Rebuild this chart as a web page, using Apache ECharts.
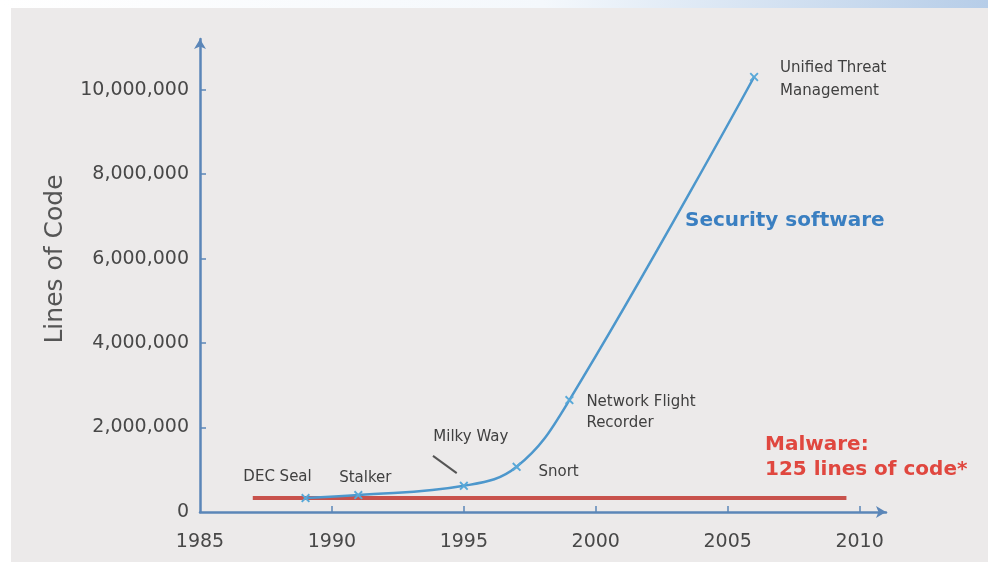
<!DOCTYPE html>
<html>
<head>
<meta charset="utf-8">
<script src="https://cdn.jsdelivr.net/npm/echarts@6/dist/echarts.min.js"></script>
<style>
html,body{margin:0;padding:0;background:#ffffff;}
#chart{width:988px;height:562px;}
</style>
</head>
<body>
<div id="chart"></div>
<script>
// ---- data ----
const years = [1989, 1991, 1995, 1997, 1999, 2006];
const linesOfCode = [330000, 400000, 620000, 1070000, 2650000, 10300000];
const productNames = ['DEC Seal', 'Stalker', 'Milky Way', 'Snort', 'Network Flight\nRecorder', 'Unified Threat\nManagement'];
const malwareYears = [1987, 2009.5];
const malwareValues = [330000, 330000];
const yTickValues = [0, 2000000, 4000000, 6000000, 8000000, 10000000];
const xTickLabels = [1985, 1990, 1995, 2000, 2005, 2010];
const milkyWayLeader = [[1993.83, 1330000], [1994.73, 920000]];

// ---- label layout (styling only) ----
const labelLayout = [
  {offset: [-28, -21], align: 'center'},
  {offset: [7, -17], align: 'center'},
  {offset: [7, -49], align: 'center'},
  {offset: [42, 5], align: 'center'},
  {offset: [17, 13], align: 'left', lineHeight: 21},
  {offset: [26, 3], align: 'left', lineHeight: 23}
];

const axisBlue = '#5b86b8';
const curveBlue = '#4d97cc';
const xMark = 'path://M0,1.5L1.5,0L5,3.5L8.5,0L10,1.5L6.5,5L10,8.5L8.5,10L5,6.5L1.5,10L0,8.5L3.5,5Z';

const securityData = years.map((y, i) => ({
  value: [y, linesOfCode[i]],
  label: {
    show: true,
    position: 'inside',
    formatter: productNames[i],
    offset: labelLayout[i].offset,
    align: labelLayout[i].align,
    verticalAlign: 'middle',
    lineHeight: labelLayout[i].lineHeight || 18
  }
}));

const chart = echarts.init(document.getElementById('chart'));
chart.setOption({
  backgroundColor: '#ecEAEA',
  animation: false,
  textStyle: {fontFamily: 'DejaVu Sans'},
  grid: {left: 200, right: 102, top: 39, bottom: 50, containLabel: false},
  graphic: [
    {type: 'rect', left: 0, top: 0, shape: {width: 11, height: 562}, style: {fill: '#ffffff'}, silent: true},
    {type: 'rect', left: 0, top: 0, shape: {width: 988, height: 8},
      style: {fill: new echarts.graphic.LinearGradient(0, 0, 1, 0, [
        {offset: 0, color: '#ffffff'}, {offset: 0.55, color: '#f4f8fc'}, {offset: 1, color: '#b6cde8'}])}, silent: true},
    {type: 'text', x: 55, y: 259, rotation: Math.PI / 2, silent: true,
      style: {text: 'Lines of Code', fill: '#555555', font: '25px "DejaVu Sans"', align: 'center', verticalAlign: 'middle'}},
    {type: 'text', left: 685, top: 211, silent: true,
      style: {text: 'Security software', fill: '#3a7fc1', font: 'bold 20px "DejaVu Sans"'}},
    {type: 'text', left: 765, top: 432, silent: true,
      style: {text: 'Malware:\n125 lines of code*', fill: '#e0473f', font: 'bold 20px "DejaVu Sans"', lineHeight: 25}}
  ],
  xAxis: {
    type: 'value', min: 1985, max: 2011,
    axisLine: {show: true, lineStyle: {color: axisBlue, width: 2.5}, symbol: ['none', 'arrow'], symbolSize: [9, 10]},
    axisTick: {show: true, inside: true, length: 6, lineStyle: {color: axisBlue, width: 1.5}, customValues: [1990, 1995, 2000, 2005, 2010]},
    axisLabel: {customValues: xTickLabels, color: '#484848', fontSize: 19, margin: 21, formatter: v => String(v)},
    splitLine: {show: false}
  },
  yAxis: {
    type: 'value', min: 0, max: 11200000,
    axisLine: {show: true, lineStyle: {color: axisBlue, width: 2.5}, symbol: ['none', 'arrow'], symbolSize: [9, 10]},
    axisTick: {show: true, inside: true, length: 6, lineStyle: {color: axisBlue, width: 1.5}, customValues: yTickValues.slice(1)},
    axisLabel: {customValues: yTickValues, color: '#484848', fontSize: 19, margin: 11,
      formatter: v => v.toLocaleString('en-US')},
    splitLine: {show: false}
  },
  series: [
    {
      name: 'Malware', type: 'line', z: 2,
      data: malwareYears.map((y, i) => [y, malwareValues[i]]),
      symbol: 'none',
      lineStyle: {color: '#c8524c', width: 4}
    },
    {
      name: 'Security software', type: 'line', z: 3,
      data: securityData,
      smooth: 0.4,
      symbol: xMark, symbolSize: 9,
      itemStyle: {color: '#58a8d8'},
      lineStyle: {color: curveBlue, width: 2.5},
      label: {color: '#404040', fontSize: 15, fontFamily: 'DejaVu Sans'},
      markLine: {
        silent: true, symbol: 'none', label: {show: false},
        lineStyle: {color: '#555555', width: 2, type: 'solid'},
        data: [[{coord: milkyWayLeader[0]}, {coord: milkyWayLeader[1]}]]
      }
    }
  ]
});
</script>
</body>
</html>
